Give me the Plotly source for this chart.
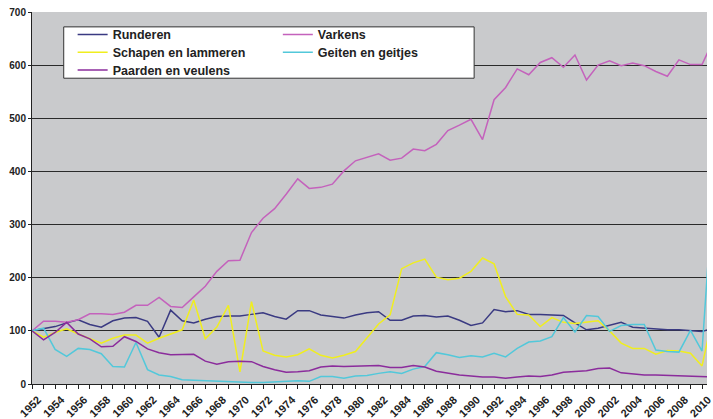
import plotly.graph_objects as go

# Index of livestock numbers (1952 = 100)
years = list(range(1952, 2012))

runderen = [100, 104, 108, 115, 121, 112, 107, 119, 124, 125,
            118, 88, 139, 119, 115, 122, 127, 128, 128, 131,
            134, 127, 122, 138, 138, 130, 127, 124, 130, 134,
            136, 120, 120, 128, 129, 126, 128, 120, 110, 115,
            140, 136, 138, 131, 131, 130, 129, 115, 102, 105,
            110, 116, 107, 105, 103, 102, 102, 101, 99, 105]

varkens = [100, 118, 118, 116, 121, 132, 132, 131, 135, 148,
           148, 163, 146, 144, 164, 184, 212, 232, 233, 285,
           312, 330, 357, 386, 368, 370, 376, 401, 420, 426,
           433, 421, 425, 442, 439, 451, 477, 487, 498, 460,
           535, 558, 593, 582, 605, 614, 596, 619, 572, 600,
           608, 599, 604, 599, 588, 579, 610, 601, 601, 648]

schapen = [100, 88, 97, 104, 94, 86, 77, 86, 92, 92,
           77, 86, 94, 102, 158, 85, 107, 148, 23, 155,
           62, 54, 51, 55, 66, 54, 49, 54, 61, 86,
           113, 130, 217, 228, 235, 201, 196, 199, 212, 237,
           226, 164, 131, 130, 108, 125, 116, 114, 116, 119,
           100, 77, 67, 67, 56, 63, 62, 58, 34, 134]

geiten = [100, 105, 65, 52, 67, 65, 57, 33, 32, 78,
          27, 17, 14, 8, 7, 6, 5, 4, 3, 3,
          3, 4, 5, 6, 5, 14, 14, 11, 15, 16,
          20, 23, 20, 28, 33, 59, 55, 50, 53, 51,
          58, 51, 67, 79, 81, 89, 125, 98, 129, 127,
          99, 110, 112, 112, 64, 61, 60, 101, 62, 383]

paarden = [100, 83, 97, 116, 94, 85, 70, 71, 89, 80,
           66, 59, 55, 56, 56, 43, 37, 42, 43, 42,
           33, 27, 22, 23, 25, 32, 34, 33, 34, 35,
           35, 31, 31, 35, 32, 24, 20, 17, 15, 13,
           13, 11, 13, 15, 14, 17, 22, 24, 25, 29,
           30, 21, 19, 17, 17, 16, 15, 14, 13, 13]

series = [
    ("Runderen", runderen, "#3a3a82"),
    ("Varkens", varkens, "#c462bc"),
    ("Schapen en lammeren", schapen, "#f0ee1e"),
    ("Geiten en geitjes", geiten, "#52c8da"),
    ("Paarden en veulens", paarden, "#8b2c9c"),
]

# one legend per entry so the two-column box can be laid out like the original
leg_ids = ["legend", "legend2", "legend3", "legend4", "legend5"]
leg_pos = [(0.0602, 0.9388), (0.3642, 0.9388), (0.0602, 0.891),
           (0.3642, 0.891), (0.0602, 0.843)]

fig = go.Figure()
for (name, vals, color), leg in zip(series, leg_ids):
    fig.add_trace(go.Scatter(x=years, y=vals, name=name, mode="lines",
                             line=dict(color=color, width=1.5), legend=leg))

leg_font = dict(family="Liberation Sans, Arial, sans-serif", size=12.5,
                color="#222222", weight="bold")

legends = {}
for leg, (lx, ly) in zip(leg_ids, leg_pos):
    legends[leg] = dict(x=lx, y=ly, xanchor="left", yanchor="middle",
                        bgcolor="rgba(0,0,0,0)", borderwidth=0, font=leg_font)

fig.update_layout(
    width=713, height=419,
    margin=dict(l=32, r=0, t=12, b=31),
    paper_bgcolor="white",
    plot_bgcolor="#c9cacc",
    font=dict(family="Liberation Sans, Arial, sans-serif", color="#222222"),
    showlegend=True,
    shapes=[dict(type="rect", xref="paper", yref="paper",
                 x0=0.047, x1=0.655, y0=0.822, y1=0.960,
                 fillcolor="white", line=dict(color="#333333", width=1),
                 layer="above")],
    **legends,
)

fig.update_xaxes(
    range=[1952, 2010.43],
    tick0=1952, dtick=2,
    tickangle=-45,
    tickfont=dict(size=11, weight="bold", color="#222222"),
    ticklabelshift=6,
    ticklabeloverflow="allow",
    ticks="outside", ticklen=4, tickcolor="#222222",
    minor=dict(dtick=1, ticks="outside", ticklen=4, tickcolor="#222222", showgrid=False),
    showgrid=False,
    showline=True, linecolor="#222222", linewidth=1,
    zeroline=False,
)

fig.update_yaxes(
    range=[0, 700], dtick=100,
    tickfont=dict(size=10, weight="bold", color="#222222"),
    ticks="outside", ticklen=3, tickcolor="#222222",
    showgrid=True, gridcolor="#2a2a2a", gridwidth=1,
    showline=True, linecolor="#222222", linewidth=1,
    zeroline=False,
)

fig.write_html("out.html", config={"displayModeBar": False},
               post_script="document.body.style.margin='0';document.body.style.overflow='hidden';")
